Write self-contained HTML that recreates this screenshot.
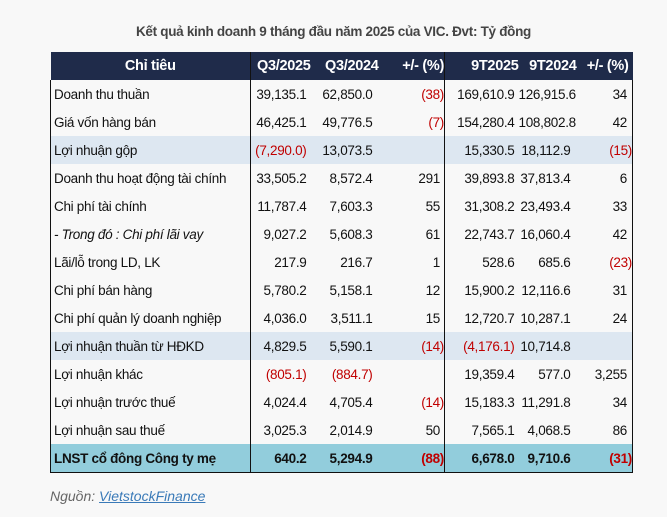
<!DOCTYPE html>
<html><head><meta charset="utf-8"><style>
body{margin:0;width:667px;height:517px;background:#f8f8f8;font-family:"Liberation Sans",sans-serif;position:relative;overflow:hidden}
#title{position:absolute;left:0;width:667px;top:24px;text-align:center;font-weight:bold;font-size:13.5px;color:#444;letter-spacing:-0.3px}
table{position:absolute;left:50px;top:52px;border-collapse:collapse;width:582px;table-layout:fixed;font-size:13.5px;color:#111;letter-spacing:-0.3px}
td,th{height:28px;padding:0;white-space:nowrap}
th{background:#1f2b4a;color:#fff;font-weight:bold;height:28px;font-size:14.5px}
td.n{text-align:right}
td.l{padding-left:3px}
.red{color:#c00000}
.hl td{background:#dde7f1}
.last td{background:#92cddc;font-weight:bold}
.b1{border-right:1.5px solid #111}
tbody tr td:first-child{border-left:1.5px solid #111}
tbody tr td:last-child{border-right:1.5px solid #111}
tr.last td{border-bottom:1.5px solid #111}
#src{position:absolute;left:50px;top:488px;font-size:14px;font-style:italic;color:#666}
#src a{color:#3a7ab8;text-decoration:underline}
</style></head><body>
<div id="title">Kết quả kinh doanh 9 tháng đầu năm 2025 của VIC. Đvt: Tỷ đồng</div>
<table>
<colgroup><col style="width:200px"><col style="width:60px"><col style="width:68px"><col style="width:66px"><col style="width:74px"><col style="width:58px"><col style="width:56px"></colgroup>
<thead><tr><th class="b1">Chỉ tiêu</th><th style="text-align:right">Q3/2025</th><th style="text-align:right">Q3/2024</th><th class="b1" style="text-align:right">+/- (%)</th><th style="text-align:right">9T2025</th><th style="text-align:right">9T2024</th><th style="text-align:right;padding-right:4px">+/- (%)</th></tr></thead>
<tbody id="tb"></tbody></table>
<div id="src">Nguồn: <a>VietstockFinance</a></div>
<script>
const labels=["Doanh thu thuần","Giá vốn hàng bán","Lợi nhuận gộp","Doanh thu hoạt động tài chính","Chi phí tài chính","- Trong đó : Chi phí lãi vay","Lãi/lỗ trong LD, LK","Chi phí bán hàng","Chi phí quản lý doanh nghiệp","Lợi nhuận thuần từ HĐKD","Lợi nhuận khác","Lợi nhuận trước thuế","Lợi nhuận sau thuế","LNST cổ đông Công ty mẹ"];
const q3_2025=["39,135.1","46,425.1","(7,290.0)","33,505.2","11,787.4","9,027.2","217.9","5,780.2","4,036.0","4,829.5","(805.1)","4,024.4","3,025.3","640.2"];
const q3_2024=["62,850.0","49,776.5","13,073.5","8,572.4","7,603.3","5,608.3","216.7","5,158.1","3,511.1","5,590.1","(884.7)","4,705.4","2,014.9","5,294.9"];
const q3chg=["(38)","(7)","","291","55","61","1","12","15","(14)","","(14)","50","(88)"];
const t9_2025=["169,610.9","154,280.4","15,330.5","39,893.8","31,308.2","22,743.7","528.6","15,900.2","12,720.7","(4,176.1)","19,359.4","15,183.3","7,565.1","6,678.0"];
const t9_2024=["126,915.6","108,802.8","18,112.9","37,813.4","23,493.4","16,060.4","685.6","12,116.6","10,287.1","10,714.8","577.0","11,291.8","4,068.5","9,710.6"];
const t9chg=["34","42","(15)","6","33","42","(23)","31","24","","3,255","34","86","(31)"];
const tb=document.getElementById('tb');
labels.forEach((lab,i)=>{
 const tr=document.createElement('tr');
 
 
 if(i===2||i===9)tr.className='hl';
 if(i===13)tr.className='last';
 const cells=[lab,q3_2025[i],q3_2024[i],q3chg[i],t9_2025[i],t9_2024[i],t9chg[i]];
 cells.forEach((v,j)=>{
  const td=document.createElement('td');
  
  
  td.textContent=v;
  if(j===0){td.className='l b1';if(i===5)td.style.fontStyle='italic';}
  else{td.className='n';if(j===3)td.className+=' b1';
   if(j===6)td.style.paddingRight=v.startsWith('(')?'0':'5px';
   if(j===3)td.style.paddingRight=v.startsWith('(')?'0':'4px';
   if(v.startsWith('('))td.className+=' red';}
  if(j===2||j===5)td.style.paddingRight='6px';
  if(j===1||j===4)td.style.paddingRight='4px';
  tr.appendChild(td);
 });
 tb.appendChild(tr);
});
</script>
</body></html>
